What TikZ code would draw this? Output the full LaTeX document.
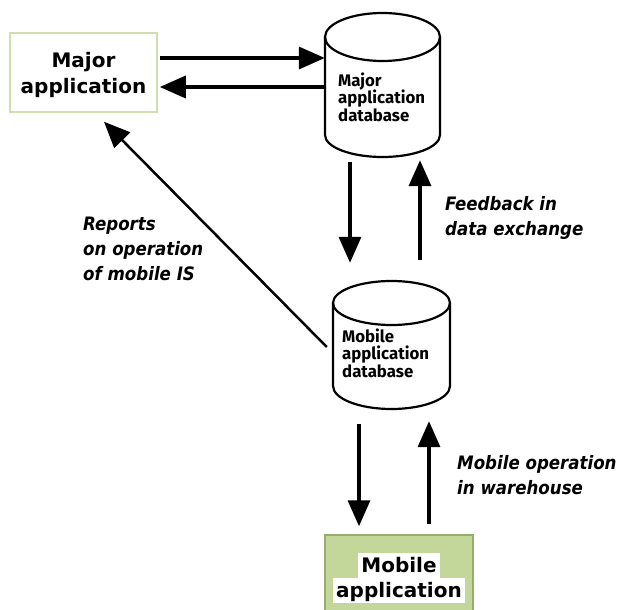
\documentclass[tikz,border=0pt]{standalone}
\usepackage{fontspec}
\setmainfont{DejaVu Sans}
\newfontfamily\labelfont{DejaVu Sans Condensed}
\newfontfamily\dbfont{Fira Sans}
\usetikzlibrary{arrows.meta}

\definecolor{boxgreen}{HTML}{C4D79B}
\definecolor{boxedge}{HTML}{98AD6C}
\definecolor{paleedge}{HTML}{D0DEB0}

% white band behind each line of the mobile application caption
\newcommand\whiteband[1]{{\setlength\fboxsep{0pt}\colorbox{white}{\rule[-6pt]{0pt}{25pt}\,#1\,}}}

\tikzset{
  flow/.style={line width=3.5pt, -{Triangle[length=26pt,width=22pt]}},
  reportflow/.style={line width=2.5pt, -{Triangle[length=26pt,width=22pt]}},
  dbline/.style={line width=2.2pt, line join=round},
  dbframe/.style={rectangle, inner sep=0pt},
  dbtext/.style={font=\dbfont\bfseries\fontsize{16.8pt}{17.5pt}\selectfont, align=left, inner sep=0pt, anchor=west},
  apptext/.style={font=\bfseries\fontsize{20pt}{26pt}\selectfont, align=center, inner sep=0pt},
  flowlabel/.style={font=\labelfont\bfseries\itshape\fontsize{18.5pt}{25pt}\selectfont, align=left, inner sep=0pt, anchor=north west}
}

\begin{document}
\begin{tikzpicture}[x=1pt,y=-1pt]
\useasboundingbox (0,0) rectangle (622,610);
\fill[white] (0,0) rectangle (622,610);

% major application
\node[draw=paleedge, line width=1.5pt, minimum width=147pt, minimum height=79pt, inner sep=0pt] (majorapp) at (83.5,72.5) {};
\node[apptext] (majorapptext) at (83.5,75) {Major\\application};

% major application database
\node[dbframe, minimum width=115pt, minimum height=144pt] (majordb) at (382.5,85) {};
\draw[dbline] (325,37) arc[start angle=180, end angle=0, x radius=57.5pt, y radius=24pt]
  -- (440,135) arc[start angle=0, end angle=-180, x radius=57.5pt, y radius=22pt] -- cycle;
\draw[dbline] (325,37) arc[start angle=180, end angle=360, x radius=57.5pt, y radius=24pt];
\node[dbtext] (majordbtext) at (338,97) {Major\\application\\database};

% mobile application database
\node[dbframe, minimum width=117pt, minimum height=128pt] (mobiledb) at (391.5,345) {};
\draw[dbline] (333,303) arc[start angle=180, end angle=0, x radius=58.5pt, y radius=22pt]
  -- (450,386) arc[start angle=0, end angle=-180, x radius=58.5pt, y radius=23pt] -- cycle;
\draw[dbline] (333,303) arc[start angle=180, end angle=360, x radius=58.5pt, y radius=22pt];
\node[dbtext] (mobiledbtext) at (342,353) {Mobile\\application\\database};

% mobile application
\node[draw=boxedge, fill=boxgreen, line width=1.5pt, minimum width=148pt, minimum height=78pt, inner sep=0pt] (mobileapp) at (399,574) {};
\node[font=\bfseries\fontsize{20pt}{25pt}\selectfont, align=center, inner sep=0pt] (mobileapptext) at (399,578)
  {\whiteband{Mobile}\\\whiteband{application}};

% exchange between the major application and its database
\draw[flow, shorten <=2pt] ([yshift=14.5pt]majorapp.east) -- ([yshift=27pt]majordb.west);
\draw[flow] ([yshift=-2pt]majordb.west) -- ([yshift=-14.5pt, xshift=2pt]majorapp.east);

% exchange between the two databases
\draw[flow] ([xshift=-32.5pt, yshift=-5pt]majordb.south) -- ([xshift=-41.5pt, yshift=18pt]mobiledb.north);
\draw[flow] ([xshift=28.5pt, yshift=21pt]mobiledb.north) -- ([xshift=37.5pt, yshift=-3pt]majordb.south);

% exchange between the mobile database and the mobile application
\draw[flow] ([xshift=-32.5pt, yshift=-15pt]mobiledb.south) -- ([xshift=-40pt, yshift=8pt]mobileapp.north);
\draw[flow] ([xshift=30pt, yshift=10pt]mobileapp.north) -- ([xshift=37.5pt, yshift=-12pt]mobiledb.south);

% reports back to the major application
\draw[reportflow] ([xshift=-6pt, yshift=-2pt]mobiledb.west) -- ([xshift=20.5pt, yshift=-9pt]majorapp.south);

% flow labels
\node[flowlabel] (reportslabel) at (83,217) {Reports\\on operation\\of mobile IS};
\node[flowlabel] (feedbacklabel) at (445,196) {Feedback in\\data exchange};
\node[flowlabel] (operationlabel) at (457,455) {Mobile operation\\in warehouse};
\end{tikzpicture}
\end{document}
